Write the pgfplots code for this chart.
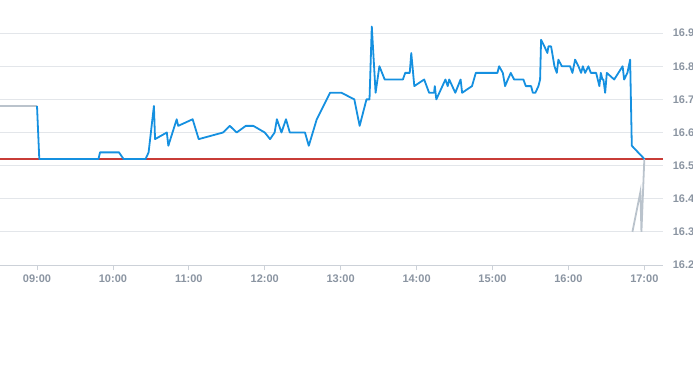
\documentclass[border=0pt]{standalone}
\usepackage{pgfplots}
\pgfplotsset{compat=1.18}
\usepackage{fontspec}
\setmainfont{Liberation Sans}
\definecolor{lineblue}{HTML}{1590E0}
\definecolor{linegrey}{HTML}{BAC3CC}
\definecolor{hlred}{RGB}{200,60,55}
\definecolor{gridc}{HTML}{E3E6EA}
\definecolor{axisc}{HTML}{CCD1D8}
\definecolor{labc}{HTML}{8A94A1}
\begin{document}
\begin{tikzpicture}
\begin{axis}[
  at={(0pt,0pt)}, anchor=south west,
  scale only axis, width=663.3pt, height=265pt,
  xmin=8.5125, xmax=17.25, ymin=16.2, ymax=17.0,
  axis x line*=bottom, axis y line*=right,
  y axis line style={draw=none},
  x axis line style={draw=axisc, line width=0.8pt},
  xtick={9,10,11,12,13,14,15,16,17},
  xticklabels={09:00,10:00,11:00,12:00,13:00,14:00,15:00,16:00,17:00},
  ytick={16.2,16.3,16.4,16.5,16.6,16.7,16.8,16.9},
  yticklabels={16.2,16.3,16.4,16.5,16.6,16.7,16.8,16.9},
  ymajorgrids, grid style={draw=gridc, line width=0.8pt},
  tick align=outside,
  x tick style={draw=axisc, line width=0.8pt},
  major tick length=5pt,
  y tick style={draw=none},
  ticklabel style={font=\fontsize{11}{13}\selectfont\bfseries, text=labc},
  yticklabel style={anchor=west, xshift=1pt},
  xticklabel style={yshift=-1pt},
  /pgf/number format/assume math mode=true,
  clip=false,
]
\addplot[color=hlred, solid, line width=1.2pt, mark=none] table[row sep=\\] {
x y\\ 8.5125 16.52\\ 17.25 16.52\\};
\addplot[draw=linegrey, line width=1.8pt] coordinates {(8.5125,16.68) (9.0,16.68)};
\addplot[draw=linegrey, line width=1.8pt] coordinates {
(16.843,16.30) (16.948,16.42) (16.962,16.30) (17.0,16.52)};
\addplot[draw=lineblue, line width=1.8pt, line join=round] coordinates {
(9.00,16.68) (9.03,16.52) (9.81,16.52) (9.83,16.54) (10.08,16.54) (10.14,16.52)
(10.43,16.52) (10.47,16.54) (10.54,16.68) (10.555,16.58) (10.71,16.60) (10.73,16.56)
(10.84,16.64) (10.86,16.62) (11.05,16.64) (11.13,16.58) (11.45,16.60) (11.54,16.62)
(11.63,16.60) (11.75,16.62) (11.85,16.62) (12.00,16.60) (12.07,16.58) (12.13,16.60)
(12.16,16.64) (12.22,16.60) (12.28,16.64) (12.33,16.60) (12.53,16.60) (12.58,16.56)
(12.685,16.64) (12.86,16.72) (13.01,16.72) (13.18,16.70) (13.25,16.62) (13.34,16.70)
(13.38,16.70) (13.41,16.92) (13.46,16.72) (13.51,16.80) (13.58,16.76) (13.82,16.76)
(13.85,16.78) (13.91,16.78) (13.93,16.84) (13.97,16.74) (14.10,16.76) (14.165,16.72)
(14.23,16.72) (14.24,16.74) (14.26,16.70) (14.38,16.76) (14.41,16.74) (14.43,16.76)
(14.51,16.72) (14.58,16.76) (14.60,16.72) (14.73,16.74) (14.78,16.78) (15.065,16.78)
(15.087,16.80) (15.136,16.78) (15.166,16.74) (15.202,16.76) (15.241,16.78) (15.285,16.76)
(15.407,16.76) (15.439,16.74) (15.509,16.74) (15.531,16.72) (15.565,16.72) (15.605,16.74)
(15.627,16.76) (15.640,16.88) (15.684,16.86) (15.723,16.84) (15.737,16.86) (15.772,16.86)
(15.816,16.80) (15.847,16.78) (15.868,16.82) (15.913,16.80) (16.022,16.80) (16.053,16.78)
(16.088,16.82) (16.132,16.80) (16.167,16.78) (16.190,16.80) (16.220,16.78) (16.263,16.80)
(16.295,16.78) (16.365,16.78) (16.408,16.74) (16.427,16.78) (16.448,16.76) (16.461,16.76)
(16.484,16.72) (16.506,16.78) (16.603,16.76) (16.714,16.80) (16.734,16.76) (16.777,16.78)
(16.813,16.82) (16.835,16.56) (17.001,16.52)};
\end{axis}
\pgfresetboundingbox
\path[use as bounding box] (0pt,-100pt) rectangle (693pt,265pt);
\end{tikzpicture}
\end{document}
